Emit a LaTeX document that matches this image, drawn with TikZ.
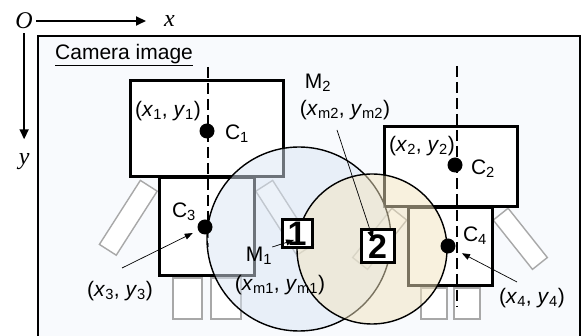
\documentclass[tikz,border=0pt]{standalone}
\usepackage{fontspec}
\setmainfont{Liberation Sans}
\newfontfamily\axisfont{Liberation Serif}
\usetikzlibrary{arrows.meta,positioning}
\definecolor{framebg}{HTML}{F8FAFD}
\definecolor{zoneblue}{HTML}{DAE6F5}
\definecolor{zoneyellow}{HTML}{F2E4BF}
\definecolor{limbgray}{HTML}{A8A8A8}

\begin{document}
\begin{tikzpicture}[
  x=1pt, y=-1pt,
  font=\fontsize{21}{24}\selectfont,
  frame/.style={draw=black, line width=2.8pt, fill=framebg},
  robot/.style={rectangle, draw=black, line width=3pt, fill=white, inner sep=0pt},
  limb/.style={rectangle, draw=limbgray, line width=1.4pt, fill=white, inner sep=0pt},
  centre/.style={circle, fill=black, inner sep=0pt, minimum size=15pt},
  guide/.style={line width=2.2pt, dash pattern=on 11pt off 5pt},
  zone/.style={circle, draw=black, line width=1.4pt, fill opacity=0.5, inner sep=0pt},
  marker/.style={rectangle, draw=black, line width=3pt, fill=white, inner sep=0pt,
    font=\fontsize{34}{34}\selectfont\bfseries},
  lbl/.style={inner sep=0pt},
  axislbl/.style={inner sep=0pt, font=\axisfont\itshape\fontsize{24}{24}\selectfont},
  axis/.style={-{Triangle[length=10pt,width=9pt]}, line width=2pt},
  ptr/.style={-{Triangle[length=8pt,width=6pt]}, line width=0.7pt}
]
\useasboundingbox (0,0) rectangle (582,336);
\draw[frame] (38,36) rectangle (580,345);

\node[limb, minimum width=20pt, minimum height=76pt, rotate=-32.6] (arm3l) at (128.3,217.8) {};
\node[limb, minimum width=20pt, minimum height=76pt, rotate=32.6]  (arm3r) at (284.7,217.8) {};
\node[limb, minimum width=19pt, minimum height=63pt, rotate=38.5]  (arm4r) at (520.3,238.8) {};
\node[limb, minimum width=19pt, minimum height=63pt, rotate=-38.5] (arm4l) at (379.7,238.8) {};
\node[limb, minimum width=29pt, minimum height=41pt] (leg3l) at (187.5,298.5) {};
\node[limb, minimum width=30pt, minimum height=41pt] (leg3r) at (226,298.5) {};
\node[limb, minimum width=26pt, minimum height=31pt] (leg4l) at (434,303.5) {};
\node[limb, minimum width=26pt, minimum height=31pt] (leg4r) at (467,303.5) {};

\node[robot, minimum width=153pt, minimum height=96pt] (box1) at (206.5,129) {};
\node[robot, minimum width=95pt,  minimum height=98pt] (box3) at (206.5,227) {};
\node[robot, minimum width=133pt, minimum height=80pt] (box2) at (450.5,167) {};
\node[robot, minimum width=84pt,  minimum height=78pt] (box4) at (450,247) {};

\coordinate (g1top) at (208,67);
\coordinate (g1bot) at (208,247);
\coordinate (g2top) at (457,66);
\coordinate (g2bot) at (457,307);
\draw[guide] (g1top) -- (g1bot);
\draw[guide] (g2top) -- (g2bot);

\node[zone, fill=zoneblue, minimum size=184pt] (zone1) at (299,239) {};
\node[zone, fill=zoneyellow, minimum size=150pt] (zone2) at (372,249) {};

\node[centre] (c1) at (207,131) {};
\node[centre] (c2) at (455,165) {};
\node[centre] (c3) at (205,227) {};
\node[centre] (c4) at (448,246) {};

\node[marker, minimum width=30pt, minimum height=28pt] (mk1) at (297,234) {1};
\node[marker, minimum width=33pt, minimum height=33pt] (mk2) at (377.5,246.5) {2};

\node[axislbl, anchor=east] (origin) at (33,21) {O};
\node[axislbl, right=131pt of origin] (xlab) {x};
\node[axislbl, below=124pt of origin] (ylab) {y};
\draw[axis, shorten <=3pt, shorten >=18pt] (origin) -- (xlab);
\draw[axis, shorten <=4pt, shorten >=14pt] (origin) -- (ylab);

\node[lbl, anchor=west] (title) at (55,55) {\underline{Camera image}};

\node[lbl] (p1) at (168,111) {(\textit{x}\textsubscript{1}, \textit{y}\textsubscript{1})};
\node[lbl] (n1) at (237,134) {C\textsubscript{1}};
\node[lbl] (p2) at (422,146) {(\textit{x}\textsubscript{2}, \textit{y}\textsubscript{2})};
\node[lbl] (n2) at (483,169) {C\textsubscript{2}};
\node[lbl] (n3) at (184,212) {C\textsubscript{3}};
\node[lbl] (p3) at (120,291) {(\textit{x}\textsubscript{3}, \textit{y}\textsubscript{3})};
\node[lbl] (n4) at (475,236) {C\textsubscript{4}};
\node[lbl] (p4) at (532,298) {(\textit{x}\textsubscript{4}, \textit{y}\textsubscript{4})};
\node[lbl] (m1lab) at (259,256) {M\textsubscript{1}};
\node[lbl] (m1pos) at (280,285) {(\textit{x}\textsubscript{m1}, \textit{y}\textsubscript{m1})};
\node[lbl] (m2lab) at (318,83) {M\textsubscript{2}};
\node[lbl] (m2pos) at (345,110) {(\textit{x}\textsubscript{m2}, \textit{y}\textsubscript{m2})};

\coordinate (t3) at (122,268);
\coordinate (t4) at (517,282);
\coordinate (m1tip) at (294,240);
\coordinate (m2tail) at (337,130);
\coordinate (m2tip) at (373,239);
\draw[ptr, shorten >=6pt] (t3) -- (c3);
\draw[ptr, shorten >=8pt] (t4) -- (c4);
\draw[ptr] (m1lab.north east) -- (m1tip);
\draw[ptr] (m2tail) -- (m2tip);
\end{tikzpicture}
\end{document}
